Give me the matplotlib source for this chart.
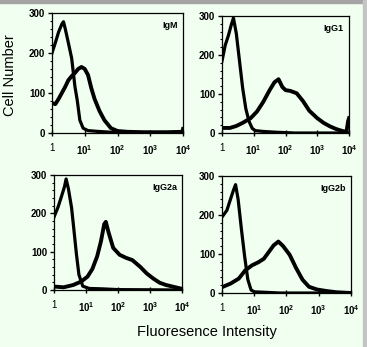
import matplotlib
matplotlib.use('Agg')
import matplotlib.pyplot as plt
from matplotlib.patches import Rectangle
from matplotlib.ticker import FixedLocator, LogLocator, NullFormatter
import numpy as np

plt.rcParams['font.family'] = 'Liberation Sans'
plt.rcParams['mathtext.fontset'] = 'custom'
plt.rcParams['mathtext.rm'] = 'Liberation Sans:bold'
plt.rcParams['mathtext.bf'] = 'Liberation Sans:bold'

BG = '#f0fff0'

# (decade position, cell count)
igm_ctrl_x = [0, 0.1, 0.2, 0.3, 0.35, 0.4, 0.5, 0.6, 0.7, 0.77, 0.85, 0.95, 1.1, 1.4, 1.8, 2.2, 3.0, 4.0]
igm_ctrl_y = [200, 225, 252, 272, 278, 262, 225, 187, 116, 82, 32, 12, 6, 4, 2, 1, 0, 0]
igm_x = [0, 0.1, 0.2, 0.3, 0.4, 0.5, 0.6, 0.7, 0.8, 0.9, 1.0, 1.1, 1.2, 1.3, 1.45, 1.6, 1.8, 2.0, 2.3, 2.8, 3.5, 3.98, 4.0]
igm_y = [75, 72, 85, 100, 115, 132, 142, 150, 160, 165, 160, 145, 112, 85, 55, 32, 12, 5, 3, 2, 2, 3, 10]

igg1_ctrl_x = [0, 0.1, 0.2, 0.3, 0.36, 0.45, 0.55, 0.65, 0.75, 0.85, 0.95, 1.05, 1.3, 1.7, 2.3, 4.0]
igg1_ctrl_y = [185, 225, 250, 280, 295, 255, 185, 115, 62, 30, 12, 6, 4, 2, 0, 0]
igg1_x = [0, 0.25, 0.45, 0.65, 0.9, 1.1, 1.3, 1.5, 1.65, 1.78, 1.9, 2.0, 2.15, 2.35, 2.55, 2.75, 3.0, 3.2, 3.4, 3.6, 3.8, 3.92, 3.97, 4.0]
igg1_y = [13, 13, 18, 26, 38, 55, 80, 110, 130, 138, 118, 110, 108, 102, 82, 57, 38, 26, 17, 10, 5, 3, 30, 38]

igg2a_ctrl_x = [0, 0.13, 0.23, 0.33, 0.38, 0.45, 0.55, 0.62, 0.7, 0.78, 0.9, 1.1, 1.5, 2.0, 4.0]
igg2a_ctrl_y = [190, 217, 243, 270, 290, 265, 215, 160, 95, 40, 10, 4, 3, 1, 0]
igg2a_x = [0, 0.3, 0.6, 0.85, 1.05, 1.2, 1.35, 1.47, 1.57, 1.62, 1.7, 1.85, 2.05, 2.25, 2.45, 2.7, 2.9, 3.1, 3.3, 3.5, 3.75, 4.0]
igg2a_y = [9, 7, 13, 22, 35, 55, 88, 128, 172, 178, 152, 110, 92, 84, 78, 60, 43, 30, 19, 13, 8, 3]

igg2b_ctrl_x = [0, 0.15, 0.26, 0.36, 0.42, 0.5, 0.6, 0.7, 0.8, 0.9, 1.0, 1.3, 1.8, 4.0]
igg2b_ctrl_y = [195, 212, 240, 265, 278, 240, 165, 95, 35, 8, 3, 2, 0, 0]
igg2b_x = [0, 0.26, 0.52, 0.72, 0.93, 1.13, 1.3, 1.45, 1.6, 1.75, 1.9, 2.1, 2.3, 2.5, 2.7, 2.95, 3.25, 3.55, 4.0]
igg2b_y = [15, 24, 37, 58, 71, 79, 88, 105, 122, 132, 120, 98, 64, 34, 16, 9, 5, 2, 0]

panel_names = ['IgM', 'IgG1', 'IgG2a', 'IgG2b']
panel_data = [
    (igm_ctrl_x, igm_ctrl_y, igm_x, igm_y),
    (igg1_ctrl_x, igg1_ctrl_y, igg1_x, igg1_y),
    (igg2a_ctrl_x, igg2a_ctrl_y, igg2a_x, igg2a_y),
    (igg2b_ctrl_x, igg2b_ctrl_y, igg2b_x, igg2b_y),
]
x_labels = ['1', r'$10^{1}$', r'$10^{2}$', r'$10^{3}$', r'$10^{4}$']
y_ticks = [0, 100, 200, 300]

fig = plt.figure(figsize=(3.67, 3.47), dpi=100, facecolor=BG)

# window frame bits
fig.patches.append(Rectangle((0, 1 - 3 / 347), 1, 3 / 347, transform=fig.transFigure,
                             color='#a4a4a4', zorder=0))
fig.patches.append(Rectangle((1 - 4 / 367, 0), 4 / 367, 1, transform=fig.transFigure,
                             color='#c4c4c4', zorder=0))

positions = [
    [0.1417, 0.6167, 0.357, 0.346],
    [0.605, 0.6167, 0.346, 0.337],
    [0.147, 0.1643, 0.349, 0.331],
    [0.605, 0.1556, 0.351, 0.337],
]

for pos, name, (cx, cy, sx, sy) in zip(positions, panel_names, panel_data):
    ax = fig.add_axes(pos, facecolor=BG)
    ax.plot(10 ** np.array(cx), cy, color='black', lw=2.3, solid_joinstyle='round')
    ax.plot(10 ** np.array(sx), sy, color='black', lw=2.8, solid_joinstyle='round')
    ax.set_xscale('log')
    ax.set_xlim(1, 1e4)
    ax.set_ylim(0, 300)
    ax.xaxis.set_major_locator(FixedLocator([1, 10, 100, 1000, 10000]))
    ax.set_xticklabels(x_labels)
    ax.xaxis.set_minor_locator(LogLocator(base=10, subs=np.arange(2, 10)))
    ax.xaxis.set_minor_formatter(NullFormatter())
    ax.set_yticks(y_ticks)
    ax.set_yticks(np.arange(0, 301, 20), minor=True)
    ax.tick_params(axis='y', which='major', direction='out', length=3, width=1,
                   pad=2, labelsize=7)
    ax.tick_params(axis='y', which='minor', direction='out', length=1.5, width=0.8)
    ax.tick_params(axis='x', which='major', direction='inout', length=4, width=1,
                   pad=5, labelsize=7)
    ax.tick_params(axis='x', which='minor', direction='in', length=1.5, width=0.8)
    for lab in ax.get_yticklabels():
        lab.set_fontweight('bold')
    for sp in ax.spines.values():
        sp.set_linewidth(0.9)
    ax.text(0.96, 0.93, name, transform=ax.transAxes, ha='right', va='top',
            fontsize=6.5, fontweight='bold')

fig.text(10 / 367, 1 - 75 / 347, 'Cell Number', rotation=90, ha='center', va='center',
         fontsize=10.5)
fig.text(207 / 367, 1 - 332 / 347, 'Fluoresence Intensity', ha='center', va='center',
         fontsize=10.5)

fig.savefig('out.png', dpi=100, facecolor=BG)
